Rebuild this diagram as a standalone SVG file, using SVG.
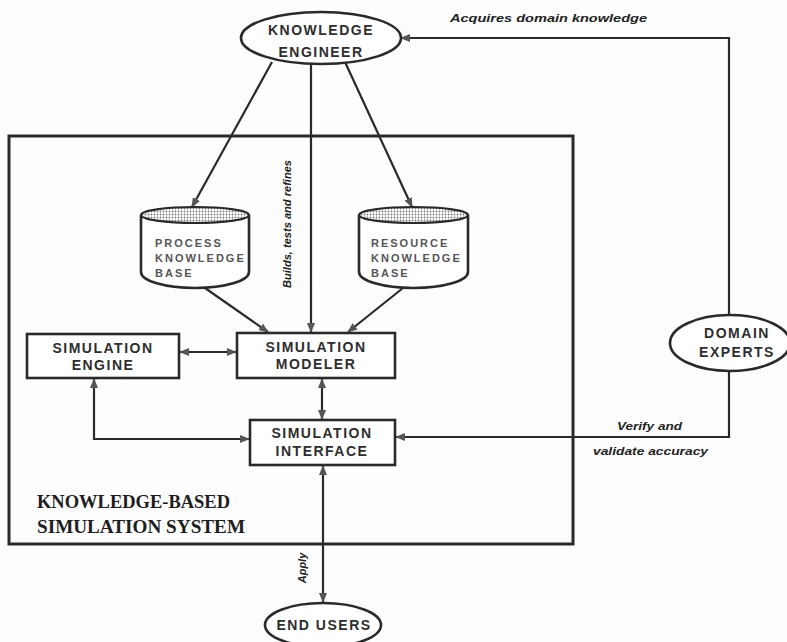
<svg xmlns="http://www.w3.org/2000/svg" width="787" height="642" viewBox="0 0 787 642">
<style>
.ln{fill:none;stroke:#2a2a2a;stroke-width:2.2}
.bx{fill:#fff;stroke:#2a2a2a;stroke-width:2.6}
.lbl{font-family:"Liberation Sans",Arial,sans-serif;font-weight:bold;font-size:14px;fill:#2e2e2e;letter-spacing:1.5px;text-anchor:middle}
.cyl{font-family:"Liberation Sans",Arial,sans-serif;font-weight:bold;font-size:11px;fill:#555;letter-spacing:2px}
.it{font-family:"Liberation Sans",Arial,sans-serif;font-weight:bold;font-style:italic;font-size:11px;fill:#222}
.ser{font-family:"Liberation Serif","Times New Roman",serif;font-weight:bold;font-size:18px;fill:#1e1e1e}
</style>
<defs>
<marker id="ah" markerWidth="10" markerHeight="8" refX="9" refY="4" orient="auto-start-reverse" markerUnits="userSpaceOnUse">
<path d="M0,0 L10,4 L0,8 z" fill="#555"/>
</marker>
<pattern id="dots" width="3" height="3" patternUnits="userSpaceOnUse">
<rect width="3" height="3" fill="#fff"/>
<circle cx="1.5" cy="1.5" r="0.9" fill="#777"/>
</pattern>
</defs>
<rect width="787" height="642" fill="#fdfdfd"/>

<g id="system-boundary">
<rect x="9" y="136" width="564" height="408" fill="none" stroke="#2a2a2a" stroke-width="3"/>
<text class="ser" x="37" y="508" textLength="193" lengthAdjust="spacingAndGlyphs">KNOWLEDGE-BASED</text>
<text class="ser" x="37" y="533" textLength="208" lengthAdjust="spacingAndGlyphs">SIMULATION SYSTEM</text>
</g>

<g id="connectors">
<polyline class="ln" points="729,315 729,38 401,38" marker-end="url(#ah)"/>
<line class="ln" x1="272" y1="62" x2="192" y2="207" marker-end="url(#ah)"/>
<line class="ln" x1="311" y1="64" x2="311" y2="332" marker-end="url(#ah)"/>
<line class="ln" x1="345" y1="62" x2="412" y2="207" marker-end="url(#ah)"/>
<line class="ln" x1="205" y1="288" x2="268" y2="332" marker-end="url(#ah)"/>
<line class="ln" x1="403" y1="288" x2="348" y2="332" marker-end="url(#ah)"/>
<line class="ln" x1="180" y1="352" x2="236" y2="352" marker-start="url(#ah)" marker-end="url(#ah)"/>
<line class="ln" x1="322" y1="379" x2="322" y2="419" marker-start="url(#ah)" marker-end="url(#ah)"/>
<polyline class="ln" points="94,379 94,439 249,439" marker-start="url(#ah)" marker-end="url(#ah)"/>
<polyline class="ln" points="729,371 729,437 396,437" marker-end="url(#ah)"/>
<line class="ln" x1="323" y1="466" x2="323" y2="602" marker-start="url(#ah)" marker-end="url(#ah)"/>
<text class="it" x="450" y="22" textLength="197" lengthAdjust="spacingAndGlyphs">Acquires domain knowledge</text>
<text class="it" x="0" y="0" transform="translate(291,224) rotate(-90)" text-anchor="middle" textLength="128" lengthAdjust="spacingAndGlyphs">Builds, tests and refines</text>
<text class="it" x="617" y="430" textLength="65" lengthAdjust="spacingAndGlyphs">Verify and</text>
<text class="it" x="593" y="455" textLength="115" lengthAdjust="spacingAndGlyphs">validate accuracy</text>
<text class="it" x="0" y="0" transform="translate(306,568) rotate(-90)" text-anchor="middle">Apply</text>
</g>

<g id="knowledge-engineer">
<ellipse cx="321" cy="38" rx="80" ry="26" class="bx"/>
<text class="lbl" x="321" y="35">KNOWLEDGE</text>
<text class="lbl" x="321" y="57">ENGINEER</text>
</g>

<g id="process-kb">
<path class="bx" d="M141,215 V272 A54,16 0 0 0 249,272 V215"/>
<ellipse cx="195" cy="215" rx="54" ry="8" fill="url(#dots)" stroke="#2a2a2a" stroke-width="2.2"/>
<text class="cyl" x="155" y="247">PROCESS</text>
<text class="cyl" x="155" y="262">KNOWLEDGE</text>
<text class="cyl" x="155" y="277">BASE</text>
</g>

<g id="resource-kb">
<path class="bx" d="M359,215 V272 A54.5,16 0 0 0 468,272 V215"/>
<ellipse cx="413.5" cy="215" rx="54.5" ry="8" fill="url(#dots)" stroke="#2a2a2a" stroke-width="2.2"/>
<text class="cyl" x="371" y="247">RESOURCE</text>
<text class="cyl" x="371" y="262">KNOWLEDGE</text>
<text class="cyl" x="371" y="277">BASE</text>
</g>

<g id="simulation-engine">
<rect class="bx" x="27" y="334" width="152" height="44"/>
<text class="lbl" x="103" y="353">SIMULATION</text>
<text class="lbl" x="103" y="370">ENGINE</text>
</g>

<g id="simulation-modeler">
<rect class="bx" x="237" y="333" width="158" height="45"/>
<text class="lbl" x="316" y="352">SIMULATION</text>
<text class="lbl" x="316" y="369">MODELER</text>
</g>

<g id="simulation-interface">
<rect class="bx" x="250" y="420" width="145" height="45"/>
<text class="lbl" x="322" y="438">SIMULATION</text>
<text class="lbl" x="322" y="456">INTERFACE</text>
</g>

<g id="domain-experts">
<ellipse class="bx" cx="730" cy="343" rx="60" ry="28"/>
<text class="lbl" x="737" y="338">DOMAIN</text>
<text class="lbl" x="737" y="357">EXPERTS</text>
</g>

<g id="end-users">
<ellipse class="bx" cx="323" cy="625" rx="58" ry="22"/>
<text class="lbl" x="324" y="630">END USERS</text>
</g>
</svg>
